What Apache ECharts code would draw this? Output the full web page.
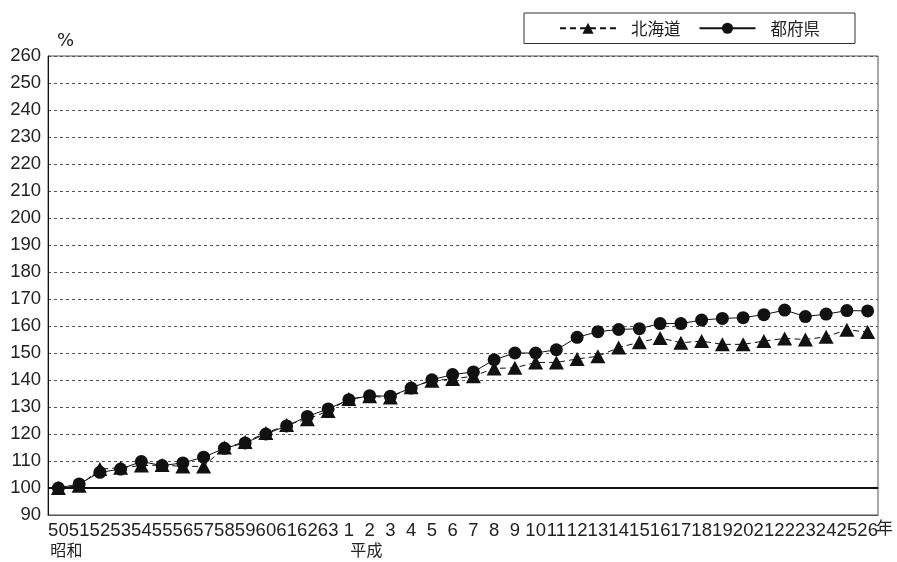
<!DOCTYPE html>
<html><head><meta charset="utf-8">
<script src="https://cdn.jsdelivr.net/npm/echarts@6/dist/echarts.min.js"></script>
<style>html,body{margin:0;padding:0;background:#fff}#c{width:897px;height:562px}</style>
</head><body><div id="c"></div>
<script>
const categories = ['50','51','52','53','54','55','56','57','58','59','60','61','62','63',
  '1','2','3','4','5','6','7','8','9','10','11','12','13','14','15','16','17','18','19','20','21','22','23','24','25','26'];
const eraLabels = {'0':'昭和','14':'平成'};
const yearUnit = '年';
const seriesNames = ['北海道','都府県'];
const hokkaido = [100,100.8,107,107.5,108.3,108.5,108,108,115,117,120.4,123.3,125.5,128.5,
  133,134,133.5,137.3,139.7,140.4,141.4,144.3,144.5,146.5,146.5,147.8,148.8,152,154,155.6,153.8,154.4,153.2,153.2,154.4,155.4,155,156,158.6,157.8];
const prefectures = [100,101.5,105.8,107,109.8,108.3,109.3,111.4,114.7,116.7,120,123,126.5,129.3,
  132.7,134.2,134,137,140.1,142,143,147.5,150,150,151.2,155.8,157.9,158.7,159,160.9,160.9,162.2,162.8,163.1,164.2,165.9,163.5,164.4,165.7,165.6];
const baseLine = 100;
const yMin = 90, yMax = 260, yStep = 10;

const NUM = '"Liberation Sans",Arial,sans-serif';
const CJK = '"Noto Sans CJK JP",sans-serif';
const chart = echarts.init(document.getElementById('c'));
chart.setOption({
  animation:false,
  backgroundColor:'#fff',
  grid:{left:48,right:19,top:56,bottom:47,show:true,borderColor:'#555',borderWidth:1,containLabel:false,outerBoundsMode:'none'},
  legend:{
    right:42, top:13, orient:'horizontal',
    data:seriesNames,
    backgroundColor:'#fff', borderColor:'#333', borderWidth:1,
    padding:[7,35,7,35], itemGap:18, itemWidth:56, itemHeight:14,
    textStyle:{fontFamily:CJK,fontSize:16.5,color:'#222',padding:[0,0,0,10]}
  },
  graphic:[{type:'text', left:876, top:519, z:10,
    style:{text:yearUnit, fontFamily:CJK, fontSize:17, fill:'#222'}}],
  xAxis:{
    type:'category', data:categories, boundaryGap:true,
    axisLine:{show:true,lineStyle:{color:'#555',width:1}},
    axisTick:{show:false},
    axisLabel:{interval:0,margin:6,color:'#222',
      formatter:function(v,i){
        const e = eraLabels[String(i)];
        if(e){ return '{d|'+v+'}\n{'+(i===0?'s':'h')+'|'+e+'}'; }
        return '{d|'+v+'}';
      },
      rich:{
        d:{fontFamily:NUM,fontSize:18.5,color:'#222',lineHeight:20},
        s:{fontFamily:CJK,fontSize:16,color:'#222',lineHeight:18,padding:[0,0,0,16]},
        h:{fontFamily:CJK,fontSize:16,color:'#222',lineHeight:18,padding:[0,0,0,35]}
      }
    }
  },
  yAxis:{
    type:'value', min:yMin, max:yMax, interval:yStep,
    axisLine:{show:true,lineStyle:{color:'#111',width:1}},
    axisTick:{show:false},
    axisLabel:{fontFamily:NUM,fontSize:18.5,color:'#222',margin:7},
    splitLine:{show:true,lineStyle:{color:'#555',width:1,type:[3,3]}},
    name:'%', nameLocation:'end', nameGap:6,
    nameTextStyle:{fontFamily:'"DejaVu Sans",sans-serif',fontSize:18,color:'#222',align:'left',padding:[0,0,0,9]}
  },
  series:[
    {name:seriesNames[0], type:'line', data:hokkaido, symbol:'triangle', symbolSize:[15,14],
      lineStyle:{color:'#111',width:1,type:[6,4]}, itemStyle:{color:'#111'}, z:3,
      markLine:{silent:true,symbol:'none',label:{show:false},
        lineStyle:{color:'#111',width:2,type:'solid'},data:[{yAxis:baseLine}]}},
    {name:seriesNames[1], type:'line', data:prefectures, symbol:'circle', symbolSize:13,
      lineStyle:{color:'#111',width:1,type:'solid'}, itemStyle:{color:'#111'}, z:4}
  ]
});
</script></body></html>
